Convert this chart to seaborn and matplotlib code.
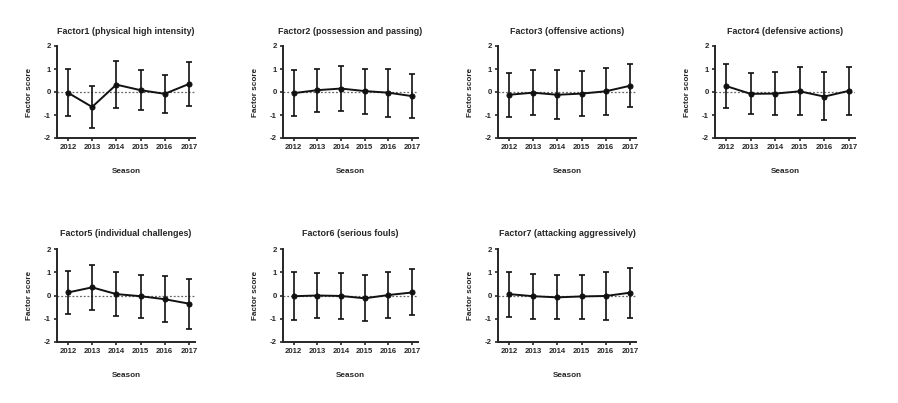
import numpy as np
import pandas as pd
import matplotlib
matplotlib.use("Agg")
import matplotlib.pyplot as plt
import seaborn as sns

seasons = [2012, 2013, 2014, 2015, 2016, 2017]

titles = [
    "Factor1 (physical high intensity)",
    "Factor2 (possession and passing)",
    "Factor3 (offensive actions)",
    "Factor4 (defensive actions)",
    "Factor5 (individual challenges)",
    "Factor6 (serious fouls)",
    "Factor7 (attacking aggressively)",
]

# mean factor score per season
f1_mean = [-0.03, -0.65, 0.32, 0.08, -0.08, 0.35]
f2_mean = [-0.05, 0.08, 0.15, 0.04, -0.03, -0.18]
f3_mean = [-0.12, -0.03, -0.12, -0.07, 0.03, 0.27]
f4_mean = [0.26, -0.08, -0.07, 0.03, -0.20, 0.05]
f5_mean = [0.13, 0.35, 0.06, -0.03, -0.16, -0.35]
f6_mean = [-0.03, 0.00, -0.02, -0.12, 0.02, 0.13]
f7_mean = [0.06, -0.03, -0.08, -0.04, -0.02, 0.12]

# top of the error bar
f1_hi = [1.00, 0.27, 1.33, 0.97, 0.75, 1.30]
f2_hi = [0.95, 1.02, 1.12, 1.02, 1.02, 0.77]
f3_hi = [0.83, 0.95, 0.95, 0.90, 1.05, 1.20]
f4_hi = [1.20, 0.82, 0.87, 1.10, 0.85, 1.08]
f5_hi = [1.05, 1.30, 1.00, 0.90, 0.85, 0.73]
f6_hi = [1.00, 0.97, 0.97, 0.87, 1.00, 1.12]
f7_hi = [1.03, 0.93, 0.88, 0.90, 1.03, 1.17]

# bottom of the error bar
f1_lo = [-1.05, -1.55, -0.68, -0.78, -0.92, -0.62]
f2_lo = [-1.05, -0.85, -0.82, -0.95, -1.08, -1.15]
f3_lo = [-1.07, -1.00, -1.17, -1.03, -0.98, -0.67]
f4_lo = [-0.68, -0.97, -1.00, -1.02, -1.23, -0.98]
f5_lo = [-0.78, -0.62, -0.88, -0.97, -1.15, -1.42]
f6_lo = [-1.07, -0.97, -1.00, -1.10, -0.95, -0.85]
f7_lo = [-0.93, -1.00, -1.03, -1.00, -1.05, -0.95]

means = [f1_mean, f2_mean, f3_mean, f4_mean, f5_mean, f6_mean, f7_mean]
highs = [f1_hi, f2_hi, f3_hi, f4_hi, f5_hi, f6_hi, f7_hi]
lows = [f1_lo, f2_lo, f3_lo, f4_lo, f5_lo, f6_lo, f7_lo]

sns.set_style("ticks")
plt.rcParams["font.family"] = ["Liberation Sans", "DejaVu Sans"]
plt.rcParams["font.weight"] = "bold"

fig = plt.figure(figsize=(8.98, 4.03), dpi=100)

# axes boxes in pixels (left, right) per column, (top, bottom) per row
cols = [(57, 195), (283, 418), (498, 636), (715, 855)]
rows = [(46, 138), (249, 342)]
W, H = 898.0, 403.0

for i, title in enumerate(titles):
    r, c = divmod(i, 4)
    x0, x1 = cols[c]
    y0, y1 = rows[r]
    ax = fig.add_axes([x0 / W, 1 - y1 / H, (x1 - x0) / W, (y1 - y0) / H])

    df = pd.DataFrame({"Season": seasons, "score": means[i]})
    m = np.array(means[i])
    yerr = [m - np.array(lows[i]), np.array(highs[i]) - m]

    ax.axhline(0, color="#666666", lw=0.9, ls=(0, (1.5, 1.5)), zorder=1)
    ax.errorbar(seasons, m, yerr=yerr, fmt="none", ecolor="#111111",
                elinewidth=1.2, capsize=2.4, capthick=1.2, zorder=2)
    sns.lineplot(data=df, x="Season", y="score", ax=ax, color="#111111",
                 lw=1.4, marker="o", markersize=3.6, markeredgecolor="#111111",
                 zorder=3)

    ax.set_xlim(2011.55, 2017.25)
    ax.set_ylim(-2, 2)
    ax.set_xticks(seasons)
    ax.set_xticklabels([str(s) for s in seasons], fontsize=5.6, fontweight="bold")
    ax.set_yticks([-2, -1, 0, 1, 2])
    ax.set_yticklabels(["-2", "-1", "0", "1", "2"], fontsize=5.6, fontweight="bold")
    ax.tick_params(axis="both", length=2.5, width=1.2, pad=2, direction="out")
    ax.set_title(title, fontsize=6.4, fontweight="bold", pad=9)
    ax.set_xlabel("Season", fontsize=5.9, fontweight="bold", labelpad=12)
    ax.set_ylabel("Factor score", fontsize=5.9, fontweight="bold", labelpad=8)
    for s in ("left", "bottom"):
        ax.spines[s].set_linewidth(1.4)
    sns.despine(ax=ax)

fig.savefig("out.png", dpi=100, facecolor="white")
